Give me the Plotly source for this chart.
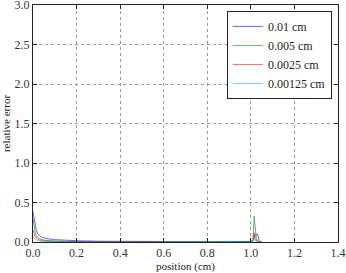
import plotly.graph_objects as go

# Blue: 0.01 cm
x_a = [0.0, 0.005, 0.01, 0.015, 0.02, 0.03, 0.04, 0.05, 0.07, 0.1, 0.15, 0.2, 0.3, 0.4, 0.5, 0.6, 0.7, 0.8, 0.9, 1.0, 1.01, 1.02, 1.03, 1.04, 1.05]
y_a = [0.38, 0.30, 0.21, 0.15, 0.11, 0.075, 0.06, 0.05, 0.04, 0.03, 0.022, 0.016, 0.01, 0.007, 0.005, 0.004, 0.004, 0.004, 0.004, 0.005, 0.02, 0.09, 0.10, 0.0, 0.0]
# Green: 0.005 cm
x_b = [0.0, 0.005, 0.01, 0.015, 0.02, 0.03, 0.04, 0.05, 0.07, 0.1, 0.15, 0.2, 0.3, 0.5, 0.7, 0.9, 1.0, 1.01, 1.015, 1.02, 1.025, 1.03, 1.04, 1.05]
y_b = [0.30, 0.20, 0.12, 0.08, 0.06, 0.04, 0.03, 0.025, 0.018, 0.012, 0.008, 0.006, 0.004, 0.003, 0.002, 0.002, 0.003, 0.02, 0.33, 0.15, 0.05, 0.02, 0.0, 0.0]
# Red: 0.0025 cm
x_c = [0.0, 0.005, 0.01, 0.02, 0.03, 0.05, 0.1, 0.2, 0.5, 0.9, 1.0, 1.01, 1.015, 1.02, 1.03, 1.05]
y_c = [0.15, 0.10, 0.07, 0.04, 0.025, 0.015, 0.007, 0.004, 0.002, 0.001, 0.002, 0.02, 0.12, 0.04, 0.0, 0.0]
# Cyan: 0.00125 cm
x_d = [0.0, 0.005, 0.01, 0.02, 0.03, 0.05, 0.1, 0.2, 0.5, 0.9, 1.0, 1.01, 1.015, 1.02, 1.03, 1.05]
y_d = [0.07, 0.05, 0.035, 0.02, 0.012, 0.007, 0.004, 0.002, 0.001, 0.001, 0.001, 0.01, 0.06, 0.02, 0.0, 0.0]

names = ["0.01 cm", "0.005 cm", "0.0025 cm", "0.00125 cm"]
colors = ["rgb(0,0,255)", "rgb(0,128,0)", "rgb(255,0,0)", "rgb(0,191,191)"]

xt = [0.0, 0.2, 0.4, 0.6, 0.8, 1.0, 1.2, 1.4]
yt = [0.0, 0.5, 1.0, 1.5, 2.0, 2.5, 3.0]

fig = go.Figure()
for xs, ys, n, c in zip([x_a, x_b, x_c, x_d], [y_a, y_b, y_c, y_d], names, colors):
    fig.add_trace(go.Scatter(x=xs, y=ys, mode="lines", name=n,
                             line=dict(color=c, width=1), opacity=0.6))

fam = "Liberation Serif, DejaVu Serif, serif"
font = dict(family=fam, size=11, color="#222")
tickfont = dict(family=fam, size=12, color="#333")
axis_common = dict(showline=True, linecolor="#222", linewidth=1, mirror="ticks",
                   ticks="inside", ticklen=4, tickcolor="#222",
                   showgrid=True, gridcolor="#999", griddash="dot", gridwidth=1,
                   zeroline=False, tickfont=tickfont, ticklabeloverflow="allow")
fig.update_xaxes(range=[0, 1.4001], tickvals=xt, ticktext=[f"{v:.1f}" for v in xt],
                 title=dict(text="position (cm)", font=font, standoff=3), **axis_common)
fig.update_yaxes(range=[0, 3.0001], tickvals=yt, ticktext=[f"{v:.1f}" for v in yt],
                 title=dict(text="relative error", font=font, standoff=3), **axis_common)
fig.update_layout(
    width=346, height=273,
    margin=dict(l=33, r=8, t=5, b=31, autoexpand=False),
    plot_bgcolor="white", paper_bgcolor="white",
    font=font,
    legend=dict(x=0.98, y=0.975, xanchor="right", yanchor="top",
                bordercolor="#222", borderwidth=1, bgcolor="white",
                font=dict(family=fam, size=12, color="#222"),
                tracegroupgap=0, itemwidth=30),
    showlegend=True,
)
fig.write_html("out.html", config={"displayModeBar": False},
               post_script="document.body.style.margin='0';document.body.style.overflow='hidden';")
